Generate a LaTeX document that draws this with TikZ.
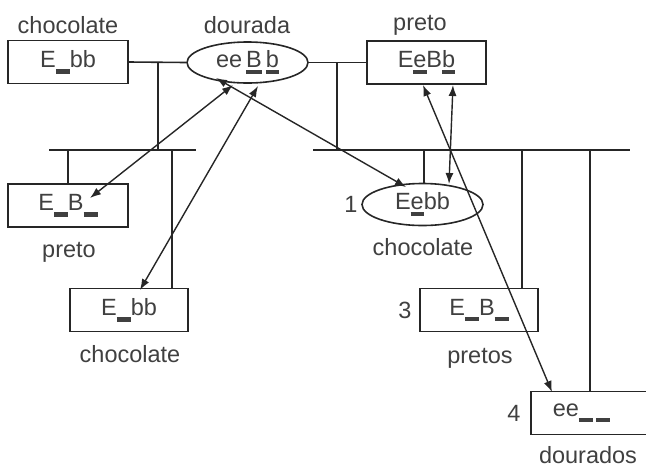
\documentclass[tikz,border=0pt]{standalone}
\usepackage{fontspec}
\setmainfont{Liberation Sans}
\usetikzlibrary{shapes.geometric,arrows.meta}
\newcommand\gapbar{\rule[-6pt]{14pt}{4.5pt}}
\newcommand\ulx[1]{\setbox0\hbox{#1}\rlap{\rule[-6.5pt]{\wd0}{4pt}}\box0}
\begin{document}
\begin{tikzpicture}[x=1pt,y=-1pt,
  every node/.style={font=\fontsize{23.5}{27}\selectfont, text=black!75},
  box/.style={draw=black!85, line width=1.6pt, minimum width=120pt, minimum height=43pt, inner sep=0pt},
  ell/.style={ellipse, draw=black!85, line width=1.6pt, minimum width=121pt, minimum height=41pt, inner sep=0pt},
  link/.style={line width=1.6pt, draw=black!85},
  arr/.style={line width=1.4pt, draw=black!85, {Latex[length=11pt,width=8pt]}-{Latex[length=11pt,width=8pt]}},
  lbl/.style={anchor=base, inner sep=0pt}]
\useasboundingbox (0,0) rectangle (646,467);

% top row
\node[box] (b1) at (68,62) {E\gapbar bb};
\node[ell] (e1) at (247.5,62.5) {ee\,\ulx{B}\,\ulx{b}};
\node[box, minimum width=119pt] (b3) at (426.5,62.5) {E\ulx{e}B\ulx{b}};

\node[lbl] (t1) at (68,33) {chocolate};
\node[lbl] (t2) at (247,33) {dourada};
\node[lbl] (t3) at (420,30) {preto};

% left children
\node[box] (c1) at (68,205.5) {E\gapbar B\gapbar};
\node[box, minimum width=118pt] (c2) at (129,310) {E\gapbar bb};
\node[lbl] (t4) at (69,257) {preto};
\node[lbl] (t5) at (130,362) {chocolate};

% right children
\node[ell, minimum height=42pt] (d1) at (422.5,204.5) {E\ulx{e}bb};
\node[box, minimum width=118pt] (d3) at (479,310) {E\gapbar B\gapbar};
\node[box, anchor=west, minimum width=140pt] (d4) at (530,413) {\makebox[96pt][l]{ee\gapbar\hspace{3pt}\gapbar}};
\node[lbl] (t6) at (423,255) {chocolate};
\node[lbl] (t7) at (480,363) {pretos};
\node[lbl] (t8) at (588,463) {dourados};
\node[lbl] (n1) at (351,212) {1};
\node[lbl] (n3) at (405,318) {3};
\node[lbl] (n4) at (514,421) {4};

% tree lines
\draw[link] (b1.east) -- (e1.west);
\draw[link] (e1.east) -- (b3.west);
\coordinate (j1) at (158,62);
\coordinate (j2) at (337,62);
\coordinate (h1a) at (49,150);
\coordinate (h1b) at (196,150);
\coordinate (h2a) at (313,150);
\coordinate (h2b) at (630,150);
\draw[link] (j1) -- (j1 |- h1a);
\draw[link] (j2) -- (j2 |- h2a);
\draw[link] (h1a) -- (h1b);
\draw[link] (h2a) -- (h2b);
\coordinate (v1) at (68,150);
\coordinate (v2) at (172,150);
\coordinate (v3) at (424,150);
\coordinate (v4) at (522,150);
\coordinate (v5) at (590,150);
\draw[link] (v1) -- (v1 |- c1.north);
\draw[link] (v2) -- (v2 |- c2.north);
\draw[link] (v3) -- (v3 |- d1.north);
\draw[link] (v4) -- (v4 |- d3.north);
\draw[link] (v5) -- (v5 |- d4.north);

% arrows
\coordinate (aA1) at (233,85);
\coordinate (aA2) at (90,198);
\coordinate (aB1) at (258,86);
\coordinate (aB2) at (140,290);
\coordinate (aC1) at (216,78);
\coordinate (aC2) at (406,187);
\coordinate (aD1) at (423,85);
\coordinate (aD2) at (552,392);
\coordinate (aE1) at (453,85);
\coordinate (aE2) at (449,184);
\draw[arr] (aA1) -- (aA2);
\draw[arr] (aB1) -- (aB2);
\draw[arr] (aC1) -- (aC2);
\draw[arr] (aD1) -- (aD2);
\draw[arr] (aE1) -- (aE2);
\end{tikzpicture}
\end{document}
